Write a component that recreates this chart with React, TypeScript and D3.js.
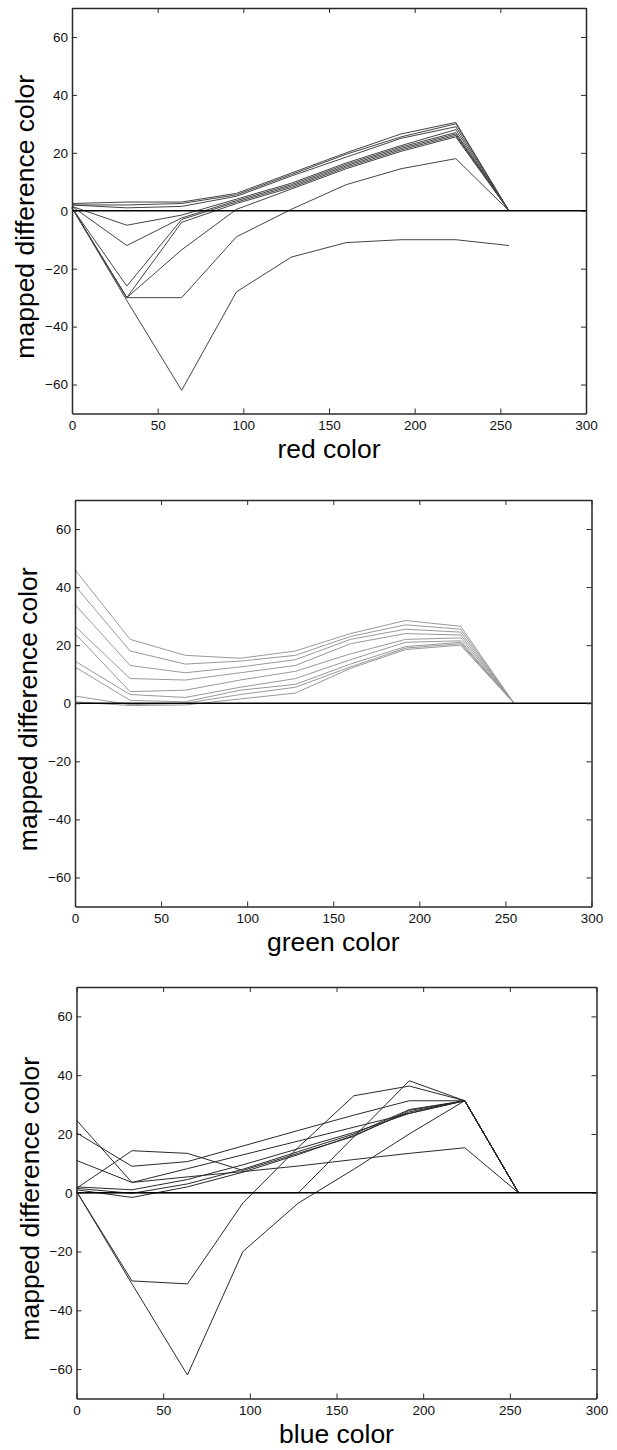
import { useEffect, useRef } from "react";
import * as d3 from "d3";

// sample positions along each colour channel
const xValues = [0, 32, 64, 96, 128, 160, 192, 224, 255];
const xTicks = [0, 50, 100, 150, 200, 250, 300];
const yTicks = [-60, -40, -20, 0, 20, 40, 60];

const redSeries = [
  [1, -31, -62, -28, -16, -11, -10, -10, -12],
  [1, -30, -30, -9, 0.5, 9, 14.5, 18, 0],
  [1, -30, -13.5, 0.5, 7.5, 14.5, 20.5, 25.5, 0],
  [1, -30, -4, 2.5, 8, 15, 21, 26, 0],
  [1, -26, -3, 3, 8.5, 15.5, 21.5, 26.5, 0],
  [1.5, -12, -2.5, 3.5, 9, 16, 22, 27, 0],
  [1.5, -5, -1.5, 4, 9.5, 16.5, 22.5, 28, 0],
  [2, 1, 1.5, 5, 12, 18.5, 25, 29, 0],
  [2, 2, 2.5, 5.5, 12.5, 19.5, 25.5, 30, 0],
  [2.5, 3, 3, 6, 13, 20, 26.5, 30.5, 0],
];

const greenSeries = [
  [46, 22, 16.5, 15.5, 18, 24, 28.5, 26.5, 0],
  [40.5, 18, 13.5, 14.5, 16.5, 23, 27, 25.5, 0],
  [34, 13, 10.5, 12.5, 15, 22, 25.5, 24.5, 0],
  [26.5, 8.5, 8, 10.5, 13, 20.5, 24, 23.5, 0],
  [24, 4, 4.5, 8, 11, 17, 22, 22.5, 0],
  [14.5, 3, 2, 5.5, 8.5, 15, 21, 21.5, 0],
  [12.5, 1, 0.5, 4.5, 6.5, 13.5, 19.5, 21, 0],
  [2.5, -0.5, 0, 3, 5.5, 12.5, 19, 20.5, 0],
  [0.5, -0.8, -0.6, 1.5, 3.5, 12, 18.5, 20, 0],
];

const blueSeries = [
  [0.5, -31, -62, -20, -3.5, 8, 20, 31.3, 0],
  [0.5, -30, -31, -3.5, 15.5, 33, 36.3, 31.3, 0],
  [0, 0, 0, 0, 0, 19, 38.1, 31.3, 0],
  [24.7, 3.5, 8.2, 12.9, 17.6, 22.3, 27, 31.3, 0],
  [20.4, 9, 10.6, 15.9, 21.2, 26.4, 31.3, 31.3, 0],
  [1.5, 14.3, 13.4, 7.6, 13.4, 19.2, 28, 31.3, 0],
  [11, 3.5, 5.4, 7.2, 9.1, 11.3, 13.4, 15.3, 0],
  [2, 1, 4.5, 9.5, 15, 20.5, 27, 31.3, 0],
  [1.5, -0.2, 3, 8, 14, 20, 28.3, 31.3, 0],
  [1, -1.6, 2, 7, 13, 19.5, 27.5, 31.3, 0],
];

const font = "'Liberation Sans', Arial, sans-serif";

type Frame = { left: number; right: number; top: number; bottom: number };

const Panel = ({ label, series, frame, stroke }: { label: string; series: number[][]; frame: Frame; stroke: string }) => {
  const ref = useRef<SVGGElement>(null);

  const x = d3.scaleLinear().domain([0, 300]).range([frame.left, frame.right]);
  const y = d3.scaleLinear().domain([-70, 70]).range([frame.bottom, frame.top]);

  const line = d3
    .line<number>()
    .x((_, i) => x(xValues[i]))
    .y((d) => y(d));

  useEffect(() => {
    const g = d3.select(ref.current);
    g.selectAll("*").remove();

    g.append("g")
      .attr("transform", `translate(0,${frame.bottom})`)
      .call(d3.axisBottom(x).tickValues(xTicks).tickSizeInner(-5).tickSizeOuter(0).tickPadding(7));
    g.append("g")
      .attr("transform", `translate(0,${frame.top})`)
      .call(d3.axisTop(x).tickValues(xTicks).tickSizeInner(-5).tickSizeOuter(0).tickFormat(() => ""));
    g.append("g")
      .attr("transform", `translate(${frame.left},0)`)
      .call(d3.axisLeft(y).tickValues(yTicks).tickSizeInner(-5).tickSizeOuter(0).tickPadding(4));
    g.append("g")
      .attr("transform", `translate(${frame.right},0)`)
      .call(d3.axisRight(y).tickValues(yTicks).tickSizeInner(-5).tickSizeOuter(0).tickFormat(() => ""));

    g.selectAll("path.domain").attr("stroke", "#2a2a2a").attr("stroke-width", 1.5);
    g.selectAll(".tick line").attr("stroke", "#2a2a2a");
    g.selectAll("text").attr("font-size", 13.5).attr("font-family", font).attr("fill", "#111");
  }, []);

  return (
    <g>
      <g className="series">
        {series.map((s, i) => (
          <path key={i} d={line(s) ?? ""} fill="none" stroke={stroke} strokeWidth={1} />
        ))}
      </g>
      <line x1={x(0)} x2={x(300)} y1={y(0)} y2={y(0)} stroke="#000" strokeWidth={1.5} />
      <g ref={ref} />
      <text
        transform={`translate(${frame.left - 38},${(frame.top + frame.bottom) / 2 + 6}) rotate(-90)`}
        textAnchor="middle"
        fontSize={26.5}
        fontFamily={font}
        fill="#000"
      >
        mapped difference color
      </text>
      <text
        x={(frame.left + frame.right) / 2}
        y={frame.bottom + 44}
        textAnchor="middle"
        fontSize={26.5}
        fontFamily={font}
        fill="#000"
      >
        {label}
      </text>
    </g>
  );
};

export default function App() {
  return (
    <svg
      width={617}
      height={1450}
      viewBox="0 0 617 1450"
      style={{ position: "absolute", left: 0, top: 0, background: "#fff" }}
    >
      <Panel label="red color" series={redSeries} stroke="#444" frame={{ left: 72, right: 586, top: 8, bottom: 413.5 }} />
      <Panel label="green color" series={greenSeries} stroke="#999" frame={{ left: 75, right: 591.5, top: 500, bottom: 906.5 }} />
      <Panel label="blue color" series={blueSeries} stroke="#2a2a2a" frame={{ left: 76.5, right: 596.5, top: 987, bottom: 1398.5 }} />
    </svg>
  );
}
